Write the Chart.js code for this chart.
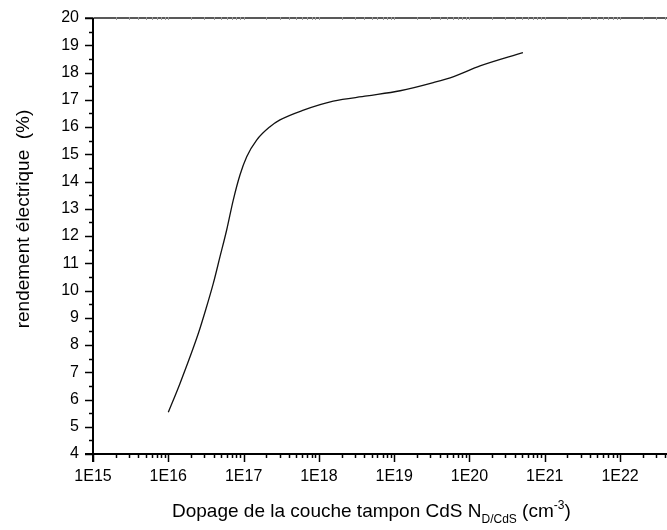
<!DOCTYPE html>
<html>
<head>
<meta charset="utf-8">
<script src="https://cdn.jsdelivr.net/npm/chart.js@4/dist/chart.umd.min.js"></script>
<style>
  body { margin: 0; background: #fff; }
  canvas { display: block; }
</style>
</head>
<body>
<canvas id="chart" width="667" height="530"></canvas>
<script>
// Data (doping in cm^-3, efficiency in %)
const doping = [1e16, 1.43e16, 2.51e16, 3.16e16, 3.96e16, 4.86e16, 5.96e16, 7.29e16,
    8.95e16, 1.1e17, 1.49e17, 2.24e17, 3.04e17, 6.24e17, 1.55e18, 4.37e18,
    1.2e19, 3.31e19, 6.17e19, 1.38e20, 5.13e20];
const rendement = [5.53, 6.59, 8.43, 9.32, 10.26, 11.24, 12.22, 13.32,
    14.24, 14.91, 15.52, 16.01, 16.26, 16.62, 16.95, 17.14,
    17.33, 17.63, 17.85, 18.24, 18.73];

// Axis ticks
const xDecades = [1e15, 1e16, 1e17, 1e18, 1e19, 1e20, 1e21, 1e22];
const xTickLabels = ["1E15", "1E16", "1E17", "1E18", "1E19", "1E20", "1E21", "1E22"];
const yTicks = [4, 5, 6, 7, 8, 9, 10, 11, 12, 13, 14, 15, 16, 17, 18, 19, 20];

const xMin = 1e15;
const xMax = 4.2e22;
const yMin = 4;
const yMax = 20;

const FONT = '"Liberation Sans", Arial, sans-serif';

// Draws the Origin-style frame, ticks, labels and titles
const axesPlugin = {
    id: "originAxes",
    afterDraw(chart) {
        const ctx = chart.ctx;
        const area = chart.chartArea;
        const xs = chart.scales.x;
        const ys = chart.scales.y;
        ctx.save();

        // top border
        ctx.strokeStyle = "#222";
        ctx.lineWidth = 1.5;
        ctx.beginPath();
        ctx.moveTo(area.left - 8, area.top);
        ctx.lineTo(area.right, area.top);
        ctx.stroke();

        // x ticks (bottom outward, top tiny inward)
        ctx.lineWidth = 1.5;
        ctx.strokeStyle = "#000";
        xDecades.forEach((d) => {
            for (let m = 1; m <= 9; m++) {
                const v = d * m;
                if (v > xMax) break;
                const px = Math.round(xs.getPixelForValue(v)) + 0.5;
                const len = m === 1 ? 8 : 4;
                ctx.beginPath();
                ctx.moveTo(px, area.bottom);
                ctx.lineTo(px, area.bottom + len);
                ctx.stroke();
                ctx.save();
                ctx.strokeStyle = "#999";
                ctx.lineWidth = 1;
                ctx.beginPath();
                ctx.moveTo(px, area.top - 1);
                ctx.lineTo(px, area.top + 2);
                ctx.stroke();
                ctx.restore();
            }
        });

        // y ticks (left outward)
        yTicks.forEach((v) => {
            const py = Math.round(ys.getPixelForValue(v)) + 0.5;
            ctx.beginPath();
            ctx.moveTo(area.left, py);
            ctx.lineTo(area.left - 8, py);
            ctx.stroke();
            if (v < yMax) {
                const pm = Math.round(ys.getPixelForValue(v + 0.5)) + 0.5;
                ctx.beginPath();
                ctx.moveTo(area.left, pm);
                ctx.lineTo(area.left - 4, pm);
                ctx.stroke();
            }
        });

        // axis lines
        ctx.lineWidth = 2;
        ctx.beginPath();
        ctx.moveTo(area.left, area.top);
        ctx.lineTo(area.left, area.bottom + 8);
        ctx.moveTo(area.left - 8, area.bottom);
        ctx.lineTo(area.right, area.bottom);
        ctx.stroke();

        // tick labels
        ctx.fillStyle = "#000";
        ctx.font = "16px " + FONT;
        ctx.textAlign = "right";
        ctx.textBaseline = "middle";
        yTicks.forEach((v) => {
            ctx.fillText(String(v), area.left - 14, ys.getPixelForValue(v));
        });
        ctx.textAlign = "center";
        ctx.textBaseline = "alphabetic";
        xDecades.forEach((d, i) => {
            ctx.fillText(xTickLabels[i], xs.getPixelForValue(d), area.bottom + 27);
        });

        // y title
        ctx.font = "19px " + FONT;
        ctx.save();
        ctx.translate(29, 219);
        ctx.rotate(-Math.PI / 2);
        ctx.textAlign = "center";
        ctx.fillText("rendement électrique  (%)", 0, 0);
        ctx.restore();

        // x title with subscript and superscript
        const base = 517;
        let x = 172;
        ctx.textAlign = "left";
        const part = (text, size, dy) => {
            ctx.font = size + "px " + FONT;
            ctx.fillText(text, x, base + dy);
            x += ctx.measureText(text).width;
        };
        part("Dopage de la couche tampon CdS N", 19, 0);
        part("D/CdS", 12, 6);
        part(" (cm", 19, 0);
        part("-3", 12, -8);
        part(")", 19, 0);

        ctx.restore();
    },
};

new Chart(document.getElementById("chart"), {
    type: "line",
    data: {
        datasets: [
            {
                data: doping.map((d, i) => ({ x: d, y: rendement[i] })),
                borderColor: "#111",
                borderWidth: 1.3,
                pointRadius: 0,
                cubicInterpolationMode: "monotone",
                fill: false,
            },
        ],
    },
    options: {
        responsive: false,
        devicePixelRatio: 1,
        animation: false,
        layout: {
            padding: { left: 93, top: 18, right: 0, bottom: 76 },
        },
        scales: {
            x: { type: "logarithmic", min: xMin, max: xMax, display: false },
            y: { type: "linear", min: yMin, max: yMax, display: false },
        },
        plugins: {
            legend: { display: false },
            tooltip: { enabled: false },
        },
    },
    plugins: [axesPlugin],
});
</script>
</body>
</html>
